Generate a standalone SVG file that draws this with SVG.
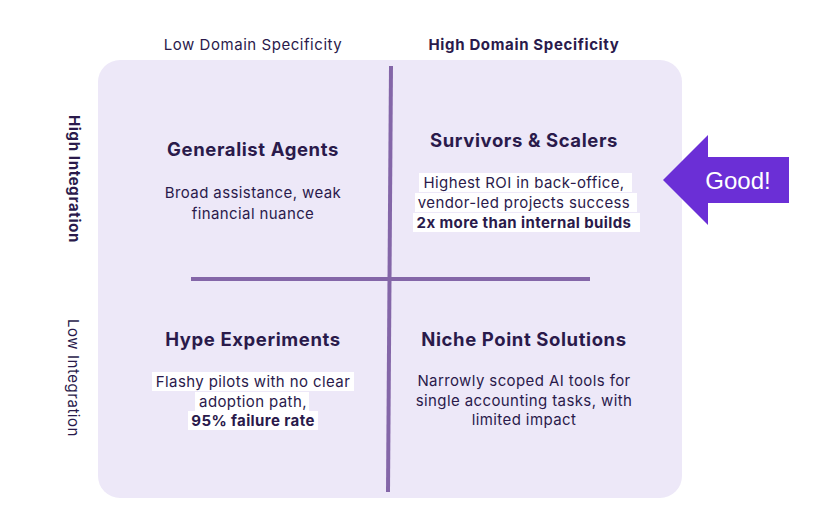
<svg xmlns="http://www.w3.org/2000/svg" width="833" height="526" viewBox="0 0 833 526">
<style>
.t{font-family:Inter,"Noto Sans",sans-serif;fill:#2a1a4b;text-anchor:middle}
.title{font-size:18.5px;font-weight:700;letter-spacing:0.6px}
.d{font-size:15px;letter-spacing:0.4px}
.b{font-weight:700}
.ax{font-size:15px;letter-spacing:0.55px}
.axb{font-size:15px;font-weight:700;letter-spacing:0.65px}
.hl{fill:#ffffff}
.ln{stroke:#8466a8;stroke-width:4;fill:none}
</style>
<rect width="833" height="526" fill="#ffffff"/>
<g id="panel"><rect x="98" y="60" width="584" height="438" rx="22" fill="#ede8f8"/></g>
<g id="axes">
<text class="t ax" x="253" y="50">Low Domain Specificity</text>
<text class="t axb" x="524" y="50">High Domain Specificity</text>
<text class="t axb" transform="translate(69,179) rotate(90)">High Integration</text>
<text class="t ax" transform="translate(68,378) rotate(90)">Low Integration</text>
</g>
<g id="connectors">
<line class="ln" x1="391" y1="66" x2="388" y2="492"/>
<line class="ln" x1="191" y1="279" x2="590" y2="279"/>
</g>
<g id="generalist">
<text class="t title" x="253" y="156">Generalist Agents</text>
<text class="t d" x="253" y="198">Broad assistance, weak</text>
<text class="t d" x="253" y="219">financial nuance</text>
</g>
<g id="survivors">
<text class="t title" x="524" y="147">Survivors &amp; Scalers</text>
<rect class="hl" x="419" y="173" width="213" height="19"/>
<rect class="hl" x="415" y="193" width="222" height="19"/>
<rect class="hl" x="413" y="213" width="227" height="19"/>
<text class="t d" x="524" y="188">Highest ROI in back-office,</text>
<text class="t d" x="524" y="208">vendor-led projects success</text>
<text class="t d b" x="524" y="228">2x more than internal builds</text>
</g>
<g id="hype">
<text class="t title" x="253" y="346">Hype Experiments</text>
<rect class="hl" x="152" y="372" width="202" height="19"/>
<rect class="hl" x="195" y="392" width="114" height="19"/>
<rect class="hl" x="188" y="411" width="130" height="19"/>
<text class="t d" x="253" y="387">Flashy pilots with no clear</text>
<text class="t d" x="253" y="407">adoption path,</text>
<text class="t d b" x="253" y="426">95% failure rate</text>
</g>
<g id="niche">
<text class="t title" x="524" y="346">Niche Point Solutions</text>
<text class="t d" x="524" y="386">Narrowly scoped AI tools for</text>
<text class="t d" x="524" y="406">single accounting tasks, with</text>
<text class="t d" x="524" y="425">limited impact</text>
</g>
<g id="good">
<polygon points="663,180 708,135 708,157 789,157 789,203 708,203 708,225" fill="#6b2fd6"/>
<text x="738" y="189" font-family="'Liberation Sans',Arial,sans-serif" font-size="24" fill="#ffffff" text-anchor="middle">Good!</text>
</g>
</svg>
